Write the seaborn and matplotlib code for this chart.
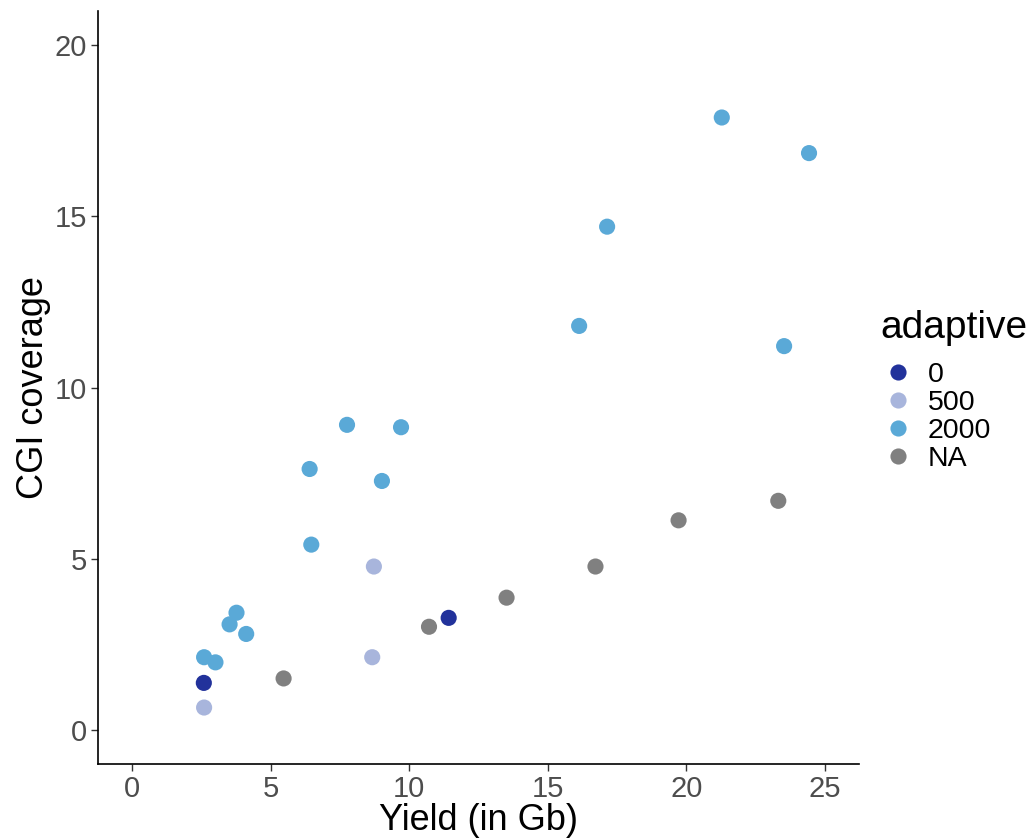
import matplotlib
matplotlib.use("Agg")
import matplotlib.pyplot as plt
import seaborn as sns
import pandas as pd

# Yield (Gb) and CGI coverage per run, grouped by adaptive sampling setting
yield_2000 = [21.28, 24.43, 17.14, 16.13, 23.53, 7.75, 9.70, 6.40, 9.01, 6.46, 3.76, 3.51, 4.11, 2.59, 3.00]
cov_2000 = [17.89, 16.85, 14.70, 11.80, 11.21, 8.91, 8.84, 7.62, 7.27, 5.41, 3.42, 3.08, 2.80, 2.12, 1.97]
yield_0 = [2.58, 11.42]
cov_0 = [1.37, 3.27]
yield_500 = [2.59, 8.72, 8.66]
cov_500 = [0.65, 4.77, 2.12]
yield_na = [5.46, 10.71, 13.51, 16.72, 19.72, 23.32]
cov_na = [1.50, 3.01, 3.86, 4.77, 6.12, 6.69]

levels = ["0", "500", "2000", "NA"]
colors = ["#22329b", "#a8b5dc", "#5aa9d7", "#808080"]

df = pd.concat([
    pd.DataFrame({"yield": yield_0, "cov": cov_0, "adaptive": "0"}),
    pd.DataFrame({"yield": yield_500, "cov": cov_500, "adaptive": "500"}),
    pd.DataFrame({"yield": yield_2000, "cov": cov_2000, "adaptive": "2000"}),
    pd.DataFrame({"yield": yield_na, "cov": cov_na, "adaptive": "NA"}),
], ignore_index=True)

sns.set_style("white")
plt.rcParams["font.family"] = ["Liberation Sans", "DejaVu Sans"]

fig = plt.figure(figsize=(10.31, 8.38), dpi=100)
ax = fig.add_axes([0.0948, 0.0883, 0.7388, 0.8985])

sns.scatterplot(data=df, x="yield", y="cov", hue="adaptive", hue_order=levels,
                palette=dict(zip(levels, colors)), s=135, linewidth=0,
                ax=ax, legend=True)

ax.set_xlim(-1.25, 26.25)
ax.set_ylim(-1, 21)
ax.set_xticks([0, 5, 10, 15, 20, 25])
ax.set_yticks([0, 5, 10, 15, 20])

for side in ["top", "right"]:
    ax.spines[side].set_visible(False)
for side in ["left", "bottom"]:
    ax.spines[side].set_color("black")
    ax.spines[side].set_linewidth(1.2)

ax.tick_params(axis="both", which="major", length=5, width=1.0, color="#333333",
               labelsize=21, labelcolor="#4d4d4d", pad=3, direction="out",
               bottom=True, left=True)

ax.set_xlabel("Yield (in Gb)", fontsize=26, color="black", labelpad=0)
ax.set_ylabel("CGI coverage", fontsize=26, color="black", labelpad=2)

handles, labels = ax.get_legend_handles_labels()
leg = ax.legend(handles, labels, title="adaptive", loc="center left",
                bbox_to_anchor=(0.843, 0.533), bbox_transform=fig.transFigure,
                frameon=False, fontsize=20.5, title_fontsize=28,
                handletextpad=0.45, labelspacing=0.08, markerscale=1.0,
                borderaxespad=0, handlelength=1.2, labelcolor="black")
leg.get_title().set_color("black")
leg._legend_box.align = "left"
leg._legend_box.sep = 11

fig.savefig("out.png", dpi=100)
